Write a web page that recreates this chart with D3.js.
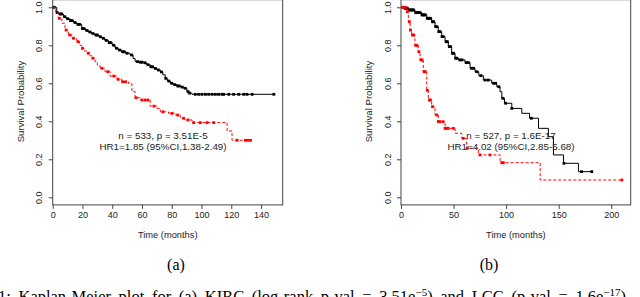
<!DOCTYPE html>
<html>
<head>
<meta charset="utf-8">
<script src="https://cdn.jsdelivr.net/npm/d3@7"></script>
<style>
  html, body { margin: 0; padding: 0; background: #fff; }
  svg { display: block; }
</style>
</head>
<body>
<div id="chart"></div>
<script>
// KIRC (a): low risk black, high risk red - step points [months, survival]
const kircLowSteps = [[0,1],[2.7,0.972],[4,0.965],[7.1,0.951],[9,0.94],[11.6,0.93],[14,0.92],[16.2,0.91],[19.5,0.888],[22,0.878],[24,0.87],[26,0.862],[28.5,0.854],[31,0.845],[33,0.837],[35,0.826],[37.4,0.814],[40,0.8],[42,0.784],[44,0.775],[46.5,0.766],[49,0.758],[52,0.749],[54,0.73],[55.4,0.714],[58,0.711],[61,0.708],[63,0.698],[65.5,0.687],[68,0.678],[70,0.67],[72.3,0.66],[74,0.645],[75.6,0.626],[77,0.612],[79,0.6],[81,0.593],[83.5,0.586],[86,0.58],[88,0.574],[90.2,0.556],[91.5,0.548],[93.6,0.542]];
const kircLowEnd = 148.6;
const kircLowCensor = [1,3,5,6,8,10,12,13,15,17,18,20,21,23,25,27,29,30,32,34,36,38,39,41,43,45,47,48,50,53,57,59,60,62,64,66,67,69,71,73,76,78,80,82,84,85,87,89,91,92,95.8,98.1,100.3,102.6,104.8,107.1,109.3,111.5,113.8,114.9,118.3,121.6,125,128.4,130.6,134,148.6];

const kircHighSteps = [[0,1],[2,0.97],[3.8,0.942],[6.1,0.916],[8.3,0.88],[10.5,0.854],[12.8,0.837],[16.2,0.819],[18,0.8],[19.5,0.784],[21,0.77],[22.9,0.758],[24.5,0.745],[26.3,0.732],[28.5,0.714],[30,0.695],[31.8,0.679],[35.2,0.661],[38.6,0.638],[43.1,0.621],[46.5,0.608],[50.9,0.6],[53.2,0.556],[55.4,0.524],[58.8,0.512],[65.5,0.48],[70,0.468],[72.3,0.45],[77.8,0.442],[82.4,0.433],[85.7,0.416],[89.1,0.407],[93.6,0.393],[117.2,0.349],[120.5,0.3]];
const kircHighEnd = 133;
const kircHighCensor = [4.5,9,11.5,14,17,20,24,27,33,37,41,44,47,49,56,60,62,64,68,74,80,84,88,91,94.7,99.2,103.7,108.2,123.9,129.5,131,132.9];

// LCC (b)
const lccLowSteps = [[0,1],[3,0.995],[7,0.986],[13.3,0.972],[19.7,0.96],[24.5,0.942],[29.2,0.924],[32.4,0.898],[35.5,0.872],[38.7,0.846],[41.9,0.819],[45,0.793],[48.2,0.758],[51.4,0.732],[54.6,0.723],[60.9,0.709],[65.7,0.679],[70.4,0.661],[74,0.64],[78.3,0.617],[86.3,0.6],[91.1,0.582],[94.2,0.556],[95.9,0.521],[98.4,0.495],[105.4,0.468],[114.9,0.442],[122.3,0.416],[130.8,0.363],[140.2,0.319],[145,0.223],[154.6,0.179],[168.8,0.135]];
const lccLowEnd = 181.5;
const lccLowCensor = [2,4,5,6,8,9,10,11,12,14,15,16,17,18,20,21,22,23,25,26,27,28,30,31,33,34,36,37,39,40,43,44,46,47,49,50,52,53,56,58,62,64,67,69,72,76,80,83,88,90,93,97,99.5,105.4,124,155,171.7,181.5];

const lccHighSteps = [[0,1],[5.4,0.977],[7,0.924],[8.6,0.88],[10.2,0.854],[13.3,0.8],[16.5,0.766],[18.1,0.723],[21.2,0.661],[24.5,0.563],[26,0.512],[29.2,0.477],[32.4,0.433],[35.5,0.398],[41.9,0.363],[51.4,0.337],[57.8,0.31],[62.5,0.258],[73.6,0.223],[94.3,0.182],[132.4,0.091]];
const lccHighEnd = 210.1;
const lccHighCensor = [2,4,6,8,9,11,12,14,15,17,19,20,22,23,25,27,28,30,34,35.5,37,40,41.9,43,45,49.8,59.3,63,75.2,84.7,95.9,97.4,210.1];

const yTicks = [0, 0.2, 0.4, 0.6, 0.8, 1.0];
const kircXTicks = [0, 20, 40, 60, 80, 100, 120, 140];
const lccXTicks = [0, 50, 100, 150, 200];
const kircText = ["n = 533, p = 3.51E-5", "HR1=1.85 (95%CI,1.38-2.49)"];
const lccText = ["n = 527, p = 1.6E-17", "HR1=4.02 (95%CI,2.85-5.68)"];

const width = 640, height = 297;
const svg = d3.select("#chart").append("svg")
  .attr("width", width)
  .attr("height", height);

const sans = "'Liberation Sans', Arial, sans-serif";

function stepAt(steps, t) {
  let s = steps[0][1];
  for (const p of steps) { if (p[0] <= t) s = p[1]; }
  return s;
}

function drawPanel(opt) {
  const x = d3.scaleLinear().domain([0, opt.xMax]).range([opt.left, opt.right]);
  const y = d3.scaleLinear().domain([0, 1]).range([197.3, 7.3]);
  const g = svg.append("g");

  // box
  g.append("rect")
    .attr("x", opt.left).attr("y", y(1.04))
    .attr("width", opt.right - opt.left).attr("height", y(-0.04) - y(1.04))
    .attr("fill", "none").attr("stroke", "#444").attr("stroke-width", 1);

  // x axis
  const xa = g.append("g")
    .attr("transform", `translate(0,${y(-0.04)})`)
    .call(d3.axisBottom(x).tickValues(opt.xTicks).tickSize(4).tickPadding(3).tickFormat(d3.format("d")));
  xa.select(".domain").remove();
  xa.selectAll("line").attr("stroke", "#444");
  xa.selectAll("text").attr("font-family", sans).attr("font-size", 9).attr("fill", "#222");

  // y axis, rotated labels
  const ya = g.append("g")
    .attr("transform", `translate(${opt.left},0)`)
    .call(d3.axisLeft(y).tickValues(yTicks).tickSize(4).tickFormat(d3.format(".1f")));
  ya.select(".domain").remove();
  ya.selectAll("line").attr("stroke", "#444");
  ya.selectAll("text")
    .attr("font-family", sans).attr("font-size", 9).attr("fill", "#222")
    .attr("transform", "rotate(-90)")
    .attr("x", 0).attr("y", -10.5).attr("dy", 0)
    .attr("text-anchor", "middle");

  // axis titles
  g.append("text")
    .attr("x", (opt.left + opt.right) / 2).attr("y", 238)
    .attr("text-anchor", "middle")
    .attr("font-family", sans).attr("font-size", 9.3).attr("fill", "#222")
    .text("Time (months)");
  g.append("text")
    .attr("transform", `translate(${opt.left - 29},101.5) rotate(-90)`)
    .attr("text-anchor", "middle")
    .attr("font-family", sans).attr("font-size", 9.6).attr("fill", "#222")
    .text("Survival Probability");

  const line = d3.line()
    .x(d => x(d[0])).y(d => y(d[1]))
    .curve(d3.curveStepAfter);

  opt.series.forEach(s => {
    const pts = s.steps.concat([[s.end, s.steps[s.steps.length - 1][1]]]);
    g.append("path")
      .datum(pts)
      .attr("d", line)
      .attr("fill", "none")
      .attr("stroke", s.color)
      .attr("stroke-width", 1)
      .attr("stroke-dasharray", s.dash || null);
    g.selectAll(null)
      .data(s.censor)
      .join("rect")
      .attr("x", d => x(d) - 1.4)
      .attr("y", d => y(stepAt(s.steps, d)) - 1.4)
      .attr("width", 2.8).attr("height", 2.8)
      .attr("fill", s.color);
  });

  // annotation
  g.append("text")
    .attr("x", opt.textX).attr("y", 139)
    .attr("text-anchor", "middle")
    .attr("font-family", sans).attr("font-size", 9.8).attr("fill", "#222")
    .text(opt.text[0]);
  g.append("text")
    .attr("x", opt.textX).attr("y", 150)
    .attr("text-anchor", "middle")
    .attr("font-family", sans).attr("font-size", 9.8).attr("fill", "#222")
    .text(opt.text[1]);
}

drawPanel({
  left: 52.7, right: 282.7, xMax: kircLowEnd * 1.04, xTicks: kircXTicks,
  textX: 163, text: kircText,
  series: [
    { steps: kircLowSteps, end: kircLowEnd, censor: kircLowCensor, color: "#000" },
    { steps: kircHighSteps, end: kircHighEnd, censor: kircHighCensor, color: "#ff0000", dash: "3,2" }
  ]
});

drawPanel({
  left: 401, right: 630.7, xMax: lccHighEnd * 1.04, xTicks: lccXTicks,
  textX: 511, text: lccText,
  series: [
    { steps: lccLowSteps, end: lccLowEnd, censor: lccLowCensor, color: "#000" },
    { steps: lccHighSteps, end: lccHighEnd, censor: lccHighCensor, color: "#ff0000", dash: "3,2" }
  ]
});

// sub-captions
const serif = "'Liberation Serif', 'Times New Roman', serif";
svg.append("text").attr("x", 176).attr("y", 270).attr("text-anchor", "middle")
  .attr("font-family", serif).attr("font-size", 16).attr("fill", "#000").text("(a)");
svg.append("text").attr("x", 489).attr("y", 270).attr("text-anchor", "middle")
  .attr("font-family", serif).attr("font-size", 16).attr("fill", "#000").text("(b)");

// figure caption, cut at the bottom and right edge as in the page
const cap = svg.append("text").attr("x", -2).attr("y", 302)
  .attr("font-family", serif).attr("font-size", 16.5).attr("fill", "#000")
  .attr("word-spacing", 3.5);
cap.append("tspan").text("1: Kaplan-Meier plot for (a) KIRC (log-rank p-val = 3.51e");
cap.append("tspan").attr("dy", -6).attr("font-size", 11).text("−5");
cap.append("tspan").attr("dy", 6).text(") and LCC (p-val = 1.6e");
cap.append("tspan").attr("dy", -6).attr("font-size", 11).text("−17");
cap.append("tspan").attr("dy", 6).text(")");
</script>
</body>
</html>
